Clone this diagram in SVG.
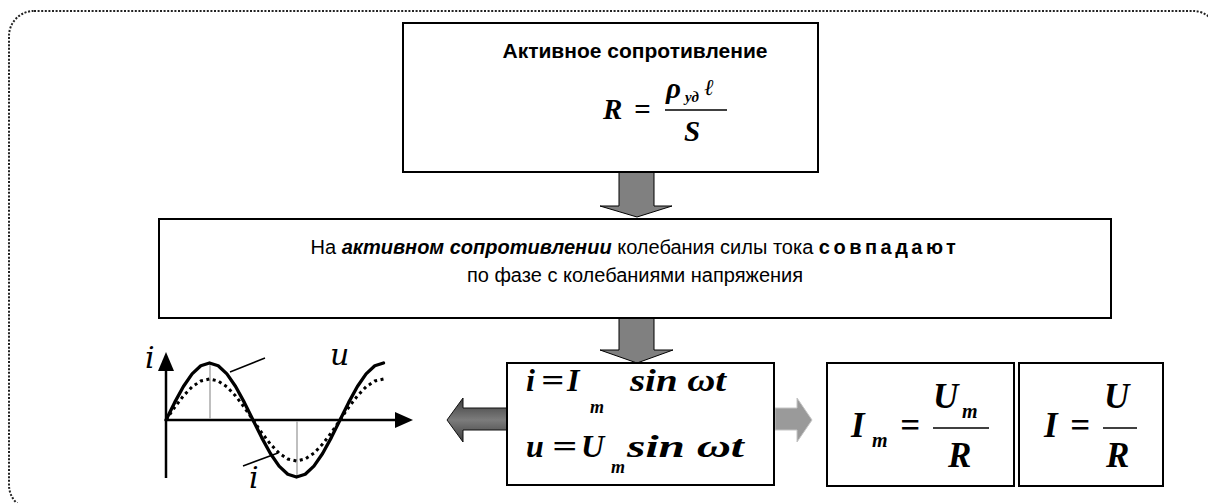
<svg xmlns="http://www.w3.org/2000/svg" width="1208" height="503" viewBox="0 0 1208 503">
<defs>
<style>
.box{fill:#fff;stroke:#000;stroke-width:2}
.sans{font-family:"Liberation Sans",Arial,sans-serif;fill:#000}
.math{font-family:"Liberation Serif","Times New Roman","DejaVu Serif",serif;font-weight:bold;font-style:italic;fill:#000}
.lbl{font-family:"DejaVu Serif",serif;font-style:italic;fill:#000}
.arr{fill:#808080;stroke:#000;stroke-width:1}
.bar{stroke:#000;stroke-width:1.5}
.guide{stroke:#aaa;stroke-width:1.5}
</style>
<linearGradient id="gL" x1="0" y1="0" x2="0" y2="1">
<stop offset="0" stop-color="#3c3c3c"/>
<stop offset="0.5" stop-color="#7c7c7c"/>
<stop offset="1" stop-color="#3c3c3c"/>
</linearGradient>
</defs>
<rect id="frame" x="9" y="11" width="1209" height="499" rx="25" fill="none" stroke="#222" stroke-width="2" stroke-dasharray="2 1.6"/>

<g id="connectors">
<path class="arr" d="M619,172 H654 V206 H672 L637,217 L600,206 H619 Z"/>
<path class="arr" d="M619,318 H654 V350 H673 L637,363 L600,350 H619 Z"/>
<path d="M507,408 H463 V398 L447,420 L463,442 V430 H507 Z" fill="url(#gL)" stroke="#111" stroke-width="1"/>
<path d="M775,408 H797 V398 L812,420 L797,442 V430 H775 Z" fill="#9a9a9a" stroke="#c4c4c4" stroke-width="1"/>
</g>

<g id="node-resistance">
<rect class="box" x="403" y="23" width="415" height="149"/>
<text class="sans" x="635" y="58" font-size="21" font-weight="bold" text-anchor="middle">Активное сопротивление</text>
<text class="math" x="603" y="119" font-size="29">R</text>
<text class="math" x="634" y="119" font-size="29">=</text>
<text class="math" x="666" y="98" font-size="29">ρ</text>
<text class="math" x="685" y="102" font-size="15">уд</text>
<text x="704" y="95" font-size="23" font-family="DejaVu Serif,serif" font-style="italic">ℓ</text>
<line class="bar" x1="665" y1="110" x2="727" y2="110"/>
<text class="math" x="684" y="141" font-size="29">S</text>
</g>

<g id="node-phase">
<rect class="box" x="159" y="219" width="952" height="99"/>
<text class="sans" x="635" y="254" font-size="20" text-anchor="middle">На <tspan font-weight="bold" font-style="italic">активном сопротивлении</tspan> колебания силы тока <tspan font-weight="bold" letter-spacing="3.5">совпадают</tspan></text>
<text class="sans" x="635" y="282" font-size="20" text-anchor="middle">по фазе с колебаниями напряжения</text>
</g>

<g id="node-graph">
<line x1="166" y1="478" x2="166" y2="368" stroke="#000" stroke-width="2.5"/>
<path d="M166,352 L158,371 L174,371 Z" fill="#000"/>
<line x1="166" y1="420" x2="397" y2="420" stroke="#000" stroke-width="2.5"/>
<path d="M413,420 L395,412 L395,428 Z" fill="#000"/>
<line class="guide" x1="210" y1="364" x2="210" y2="419"/>
<line class="guide" x1="297" y1="421" x2="297" y2="476"/>
<polyline fill="none" stroke="#000" stroke-width="3.3" stroke-linejoin="round" stroke-linecap="round" points="166,420 174.7,402.4 183.4,386.5 192.1,373.9 200.8,365.8 209.5,363 218.2,365.8 226.9,373.9 235.6,386.5 244.3,402.4 253,420 261.7,437.6 270.4,453.5 279.1,466.1 287.8,474.2 296.5,477 305.2,474.2 313.9,466.1 322.6,453.5 331.3,437.6 340,420 348.7,402.4 357.4,386.5 366.1,373.9 374.8,365.8 383.5,363"/>
<polyline fill="none" stroke="#000" stroke-width="3" stroke-dasharray="3 3.5" points="166,420 174.7,407.3 183.4,395.9 192.1,386.8 200.8,381 209.5,379 218.2,381 226.9,386.8 235.6,395.9 244.3,407.3 253,420 261.7,432.7 270.4,444.1 279.1,453.2 287.8,459 296.5,461 305.2,459 313.9,453.2 322.6,444.1 331.3,432.7 340,420 348.7,407.3 357.4,395.9 366.1,386.8 374.8,381 383.5,379"/>
<line x1="230" y1="372" x2="265" y2="358" stroke="#000" stroke-width="1.5"/>
<line x1="243" y1="466" x2="278" y2="453" stroke="#000" stroke-width="1.5"/>
<text class="lbl" x="330" y="365" font-size="30">u</text>
<text class="lbl" x="145" y="368" font-size="30">i</text>
<text class="lbl" x="249" y="488" font-size="30">i</text>
</g>

<g id="node-equations">
<rect class="box" x="507" y="363" width="267" height="122"/>
<text class="math" x="526" y="391" font-size="32">i</text>
<text class="math" x="541" y="391" font-size="32" textLength="23" lengthAdjust="spacingAndGlyphs">=</text>
<text class="math" x="567" y="391" font-size="32">I</text>
<text class="math" x="590" y="413" font-size="18">m</text>
<text class="math" x="630" y="391" font-size="32" textLength="96" lengthAdjust="spacingAndGlyphs">sin ωt</text>
<text class="math" x="526" y="457" font-size="32">u</text>
<text class="math" x="552" y="457" font-size="32" textLength="25" lengthAdjust="spacingAndGlyphs">=</text>
<text class="math" x="581" y="457" font-size="32">U</text>
<text class="math" x="611" y="473" font-size="18">m</text>
<text class="math" x="627" y="457" font-size="32" textLength="117" lengthAdjust="spacingAndGlyphs">sin ωt</text>
</g>

<g id="node-amplitude">
<rect class="box" x="827" y="363" width="187" height="123"/>
<text class="math" x="851" y="437" font-size="35">I</text>
<text class="math" x="872" y="447" font-size="20">m</text>
<text class="math" x="900" y="437" font-size="35">=</text>
<line class="bar" x1="933" y1="428" x2="989" y2="428"/>
<text class="math" x="933" y="408" font-size="35">U</text>
<text class="math" x="962" y="418" font-size="20">m</text>
<text class="math" x="948" y="467" font-size="35">R</text>
</g>

<g id="node-effective">
<rect class="box" x="1019" y="363" width="144" height="123"/>
<text class="math" x="1044" y="437" font-size="35">I</text>
<text class="math" x="1070" y="437" font-size="35">=</text>
<line class="bar" x1="1103" y1="428" x2="1137" y2="428"/>
<text class="math" x="1104" y="408" font-size="35">U</text>
<text class="math" x="1106" y="467" font-size="35">R</text>
</g>
</svg>
